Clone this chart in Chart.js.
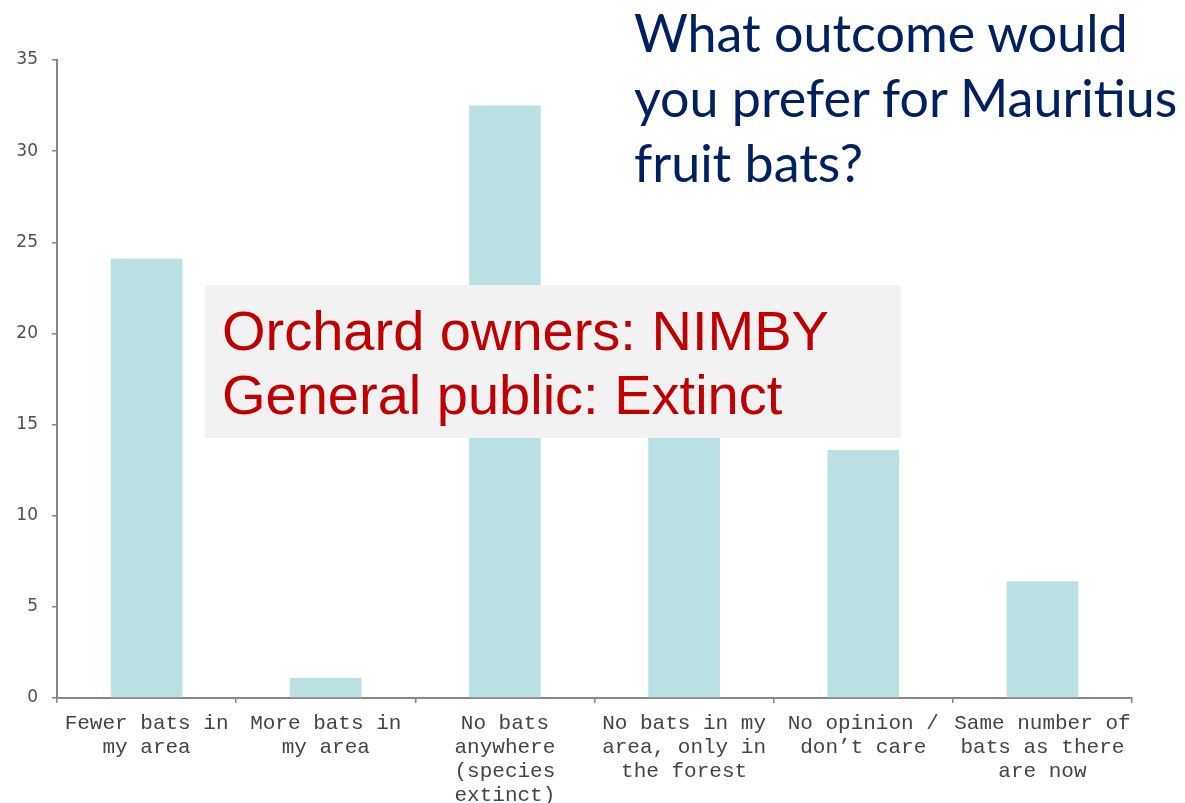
<!DOCTYPE html>
<html lang="en">
<head>
<meta charset="UTF-8">
<title>Mauritius fruit bats</title>
<style>
    body { margin: 0; background: #fff; }
    #wrap { position: relative; width: 1185px; height: 803px; }
    #question {
        position: absolute; left: 634px; top: 0px;
        font-family: Lato, "Noto Sans", sans-serif; font-size: 52px; line-height: 65px;
        color: #002060; white-space: nowrap;
    }
    #callout {
        position: absolute; left: 205px; top: 285px; width: 696px; height: 153px;
        background: #f2f2f2; box-sizing: border-box; padding: 14px 0 0 17px;
        font-family: "Liberation Sans", Arial, sans-serif; font-size: 56px; line-height: 64px;
        color: #c00000; white-space: nowrap;
    }
</style>
</head>
<body>
<div id="wrap">
    <canvas id="myChart" width="1185" height="803"></canvas>
    <div id="question">What outcome would<br>you prefer for Mauritius<br>fruit bats?</div>
    <div id="callout">Orchard owners: NIMBY<br>General public: Extinct</div>
</div>

<script src="https://cdn.jsdelivr.net/npm/chart.js"></script>
<script>
    // categories (multi-line labels as drawn on the axis)
    const categories = [
        ["Fewer bats in", "my area"],
        ["More bats in", "my area"],
        ["No bats", "anywhere", "(species", "extinct)"],
        ["No bats in my", "area, only in", "the forest"],
        ["No opinion /", "don\u2019t care"],
        ["Same number of", "bats as there", "are now"]
    ];
    // percentage of respondents (4th bar is hidden behind the callout, remainder to 100)
    const percentages = [24.1, 1.1, 32.5, 22.3, 13.6, 6.4];
    const yMin = 0;
    const yMax = 35;
    const yStep = 5;

    const axisGrey = '#878787';

    const ctx = document.getElementById('myChart').getContext('2d');
    const myChart = new Chart(ctx, {
        type: 'bar',
        data: {
            labels: categories,
            datasets: [{
                data: percentages,
                backgroundColor: '#bbe0e3',
                borderWidth: 0,
                categoryPercentage: 1,
                barPercentage: 0.4
            }]
        },
        options: {
            responsive: false,
            animation: false,
            layout: { padding: { left: 0, right: 53, top: 60, bottom: 0 } },
            plugins: {
                legend: { display: false },
                tooltip: { enabled: false }
            },
            scales: {
                x: {
                    afterFit: function (scale) { scale.height = 105; },
                    border: { color: axisGrey, width: 2 },
                    grid: { drawOnChartArea: false, drawTicks: true, tickLength: 5, color: axisGrey, lineWidth: 1.5 },
                    ticks: {
                        autoSkip: false, maxRotation: 0, minRotation: 0, padding: 8,
                        color: '#444444',
                        font: { family: '"Liberation Mono", "Courier New", monospace', size: 21, lineHeight: '24px' }
                    }
                },
                y: {
                    min: yMin,
                    max: yMax,
                    afterFit: function (scale) { scale.width = 57; },
                    border: { color: axisGrey, width: 2 },
                    grid: { drawOnChartArea: false, drawTicks: true, tickLength: 5, color: axisGrey, lineWidth: 1.5 },
                    ticks: {
                        stepSize: yStep, padding: 14,
                        color: '#505050',
                        font: { family: '"DejaVu Sans", Verdana, sans-serif', size: 17 }
                    }
                }
            }
        }
    });
</script>
</body>
</html>
